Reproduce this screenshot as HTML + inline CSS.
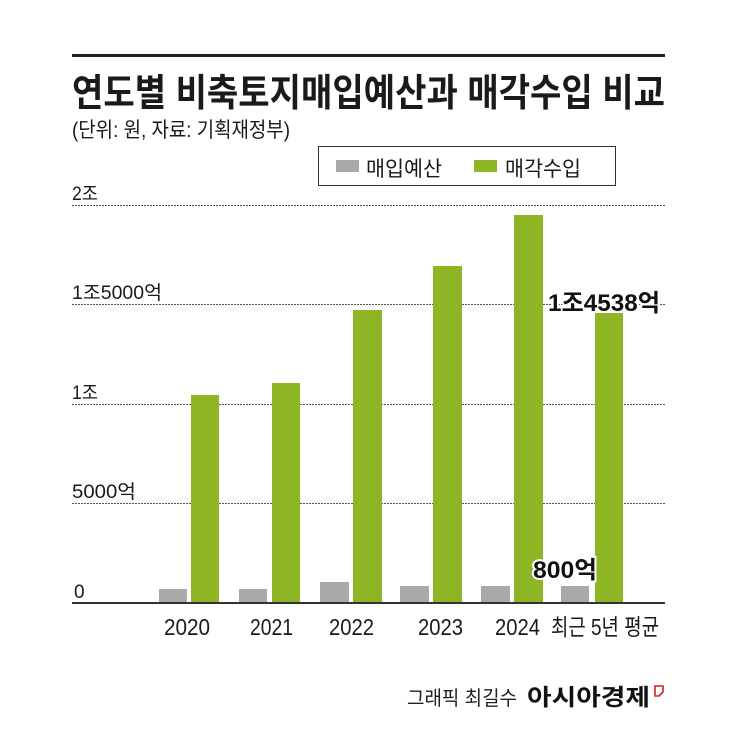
<!DOCTYPE html>
<html><head><meta charset="utf-8"><style>body{margin:0;background:#fff}svg{display:block}</style></head><body>
<svg width="745" height="753" viewBox="0 0 745 753" xmlns="http://www.w3.org/2000/svg" font-family="'Liberation Sans','Noto Sans CJK KR',sans-serif">
<rect width="745" height="753" fill="#fff"/>
<rect x="72" y="54" width="593" height="3" fill="#222"/>
<text x="72" y="106" font-size="38" font-weight="bold" fill="#1a1a1a" textLength="593" lengthAdjust="spacingAndGlyphs">연도별 비축토지매입예산과 매각수입 비교</text>
<text x="72" y="137" font-size="21" fill="#1a1a1a" textLength="218" lengthAdjust="spacingAndGlyphs">(단위: 원, 자료: 기획재정부)</text>
<rect x="318.5" y="146.5" width="297" height="39" fill="#fff" stroke="#333" stroke-width="1"/>
<rect x="336" y="160" width="23" height="12" fill="#a9a9a9"/>
<text x="366" y="176" font-size="21" fill="#1a1a1a" textLength="76" lengthAdjust="spacingAndGlyphs">매입예산</text>
<rect x="474" y="160" width="23" height="12" fill="#8db524"/>
<text x="505" y="176" font-size="21" fill="#1a1a1a" textLength="76" lengthAdjust="spacingAndGlyphs">매각수입</text>
<g stroke="#555" stroke-width="1" stroke-dasharray="2,1">
<line x1="72" y1="205.5" x2="665" y2="205.5"/>
<line x1="72" y1="304.5" x2="665" y2="304.5"/>
<line x1="72" y1="404.5" x2="665" y2="404.5"/>
<line x1="72" y1="503.5" x2="665" y2="503.5"/>
</g>
<g font-size="19" fill="#1a1a1a">
<text x="72" y="200" textLength="26" lengthAdjust="spacingAndGlyphs">2조</text>
<text x="72" y="299" textLength="90" lengthAdjust="spacingAndGlyphs">1조5000억</text>
<text x="72" y="399" textLength="26" lengthAdjust="spacingAndGlyphs">1조</text>
<text x="72" y="498" textLength="64" lengthAdjust="spacingAndGlyphs">5000억</text>
<text x="74" y="598">0</text>
</g>
<g fill="#a9a9a9">
<rect x="159" y="589" width="28" height="14"/>
<rect x="239" y="589" width="28" height="14"/>
<rect x="320" y="582" width="29" height="21"/>
<rect x="400" y="586" width="29" height="17"/>
<rect x="481" y="586" width="29" height="17"/>
<rect x="561" y="586" width="28" height="17"/>
</g>
<g fill="#8db524">
<rect x="191" y="395" width="28" height="208"/>
<rect x="272" y="383" width="28" height="220"/>
<rect x="353" y="310" width="29" height="293"/>
<rect x="433" y="266" width="29" height="337"/>
<rect x="514" y="215" width="29" height="388"/>
<rect x="595" y="313" width="28" height="290"/>
</g>
<rect x="72" y="602" width="593" height="2" fill="#333"/>
<g font-size="24" font-weight="bold" fill="#111" stroke="#fff" stroke-width="4" paint-order="stroke">
<text x="548" y="311" textLength="112" lengthAdjust="spacingAndGlyphs">1조4538억</text>
<text x="533" y="578" textLength="64" lengthAdjust="spacingAndGlyphs">800억</text>
</g>
<g font-size="23" fill="#1a1a1a">
<text x="164" y="635" textLength="46" lengthAdjust="spacingAndGlyphs">2020</text>
<text x="250" y="635" textLength="43" lengthAdjust="spacingAndGlyphs">2021</text>
<text x="329" y="635" textLength="45" lengthAdjust="spacingAndGlyphs">2022</text>
<text x="418" y="635" textLength="45" lengthAdjust="spacingAndGlyphs">2023</text>
<text x="495" y="635" textLength="45" lengthAdjust="spacingAndGlyphs">2024</text>
<text x="551" y="635" textLength="108" lengthAdjust="spacingAndGlyphs">최근 5년 평균</text>
</g>
<text x="407" y="705" font-size="20" fill="#222" textLength="110" lengthAdjust="spacingAndGlyphs">그래픽 최길수</text>
<text x="527" y="705" font-size="23" font-weight="bold" fill="#111" textLength="123" lengthAdjust="spacingAndGlyphs">아시아경제</text>
<path d="M655 686 h8 v6 l-4 4 h-4 z" fill="none" stroke="#d0202a" stroke-width="1.6"/>
</svg>
</body></html>
